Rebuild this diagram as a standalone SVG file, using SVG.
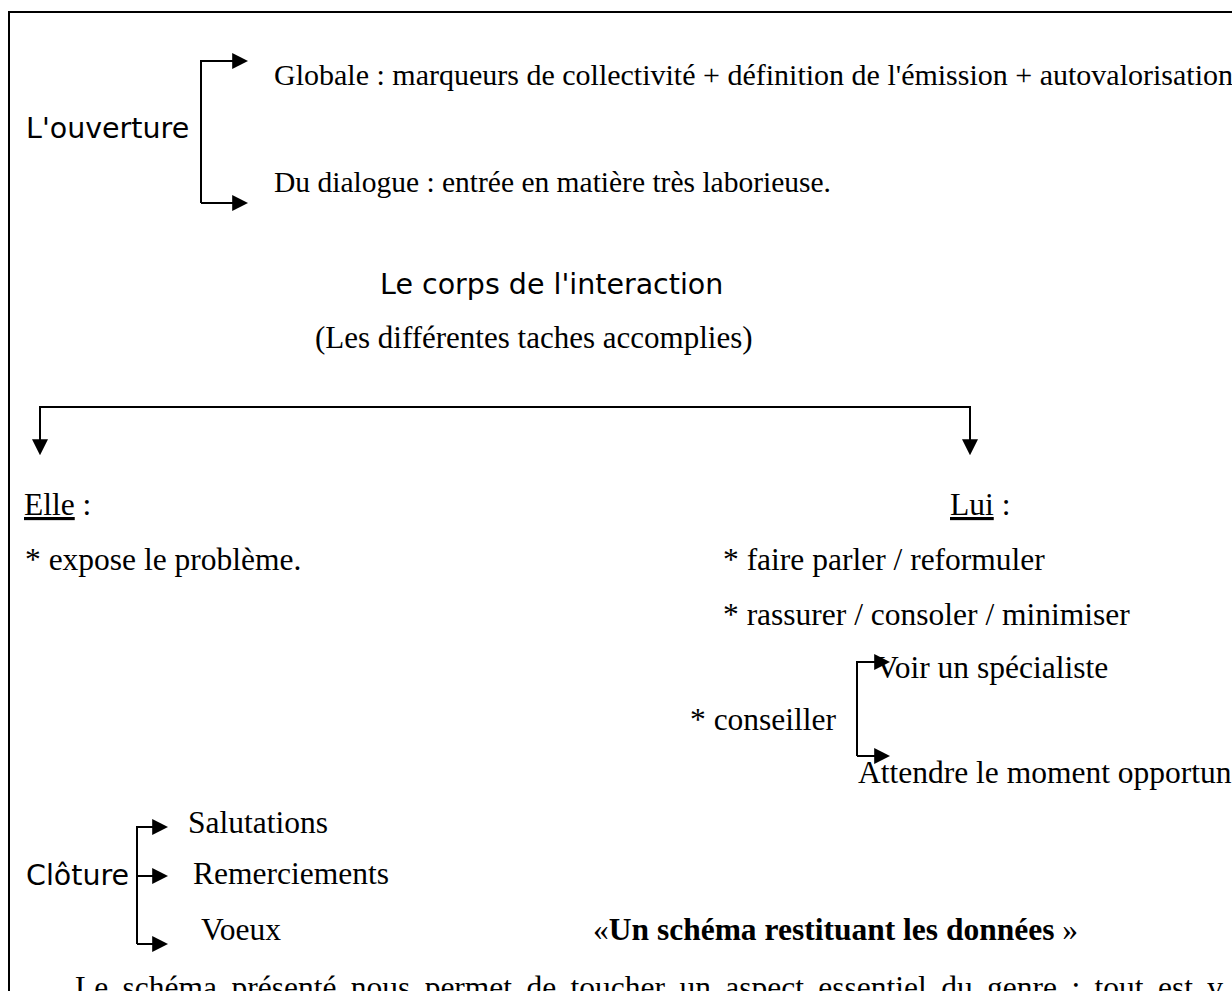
<svg xmlns="http://www.w3.org/2000/svg" width="1232" height="991" viewBox="0 0 1232 991">
<style>
.s{font-family:"DejaVu Sans","Liberation Sans",sans-serif;font-size:28.5px;fill:#000}
.t{font-family:"Liberation Serif","Times New Roman",serif;font-size:31.5px;fill:#000}
.t30{font-size:30px}
.b{font-weight:bold}
.ln{fill:none;stroke:#000;stroke-width:2}
</style>
<defs>
<marker id="ah" viewBox="0 0 10 10" refX="3" refY="5" markerWidth="16" markerHeight="16" markerUnits="userSpaceOnUse" orient="auto">
<path d="M0,0 L10,5 L0,10 z" fill="#000"/>
</marker>
</defs>
<rect width="1232" height="991" fill="#fff"/>
<path d="M9,991 V12 H1232" fill="none" stroke="#000" stroke-width="2"/>

<g id="connectors">
<path class="ln" d="M201,203 V61 H237" marker-end="url(#ah)"/>
<path class="ln" d="M201,203 H237" marker-end="url(#ah)"/>
<path class="ln" d="M40,444 V407 H970 V444" marker-end="url(#ah)"/>
<path class="ln" d="M40,407 V444" marker-end="url(#ah)"/>
<path class="ln" d="M857,756 V662 H879" marker-end="url(#ah)"/>
<path class="ln" d="M857,756 H879" marker-end="url(#ah)"/>
<path class="ln" d="M137,944 V827 H157" marker-end="url(#ah)"/>
<path class="ln" d="M137,876 H157" marker-end="url(#ah)"/>
<path class="ln" d="M137,944 H157" marker-end="url(#ah)"/>
</g>

<g id="ouverture"><text class="s" x="26" y="138">L'ouverture</text></g>
<g id="globale"><text class="t t30" x="274" y="85">Globale : marqueurs de collectivité + définition de l'émission + autovalorisation</text></g>
<g id="dialogue"><text class="t" x="274" y="192" style="font-size:29.5px">Du dialogue : entrée en matière très laborieuse.</text></g>
<g id="corps"><text class="s" x="380" y="294">Le corps de l'interaction</text></g>
<g id="taches"><text class="t" x="315" y="348" style="font-size:31px">(Les différentes taches accomplies)</text></g>
<g id="elle">
<text class="t" x="24" y="515"><tspan text-decoration="underline">Elle</tspan> :</text>
<text class="t" x="25" y="570">* expose le problème.</text>
</g>
<g id="lui">
<text class="t" x="950" y="515"><tspan text-decoration="underline">Lui</tspan> :</text>
<text class="t" x="723" y="570">* faire parler / reformuler</text>
<text class="t" x="723" y="625">* rassurer / consoler / minimiser</text>
</g>
<g id="conseiller">
<text class="t" x="690" y="730">* conseiller</text>
<text class="t" x="876" y="678">Voir un spécialiste</text>
<text class="t" x="858" y="783">Attendre le moment opportun</text>
</g>
<g id="cloture">
<text class="s" x="26" y="885">Clôture</text>
<text class="t" x="188" y="833">Salutations</text>
<text class="t" x="193" y="884">Remerciements</text>
<text class="t" x="201" y="940">Voeux</text>
</g>
<g id="titre"><text class="t" x="593" y="940">«<tspan class="b">Un schéma restituant les données</tspan> »</text></g>
<text class="t" x="75" y="998" word-spacing="6.5">Le schéma présenté nous permet de toucher un aspect essentiel du genre : tout est v</text>
</svg>
